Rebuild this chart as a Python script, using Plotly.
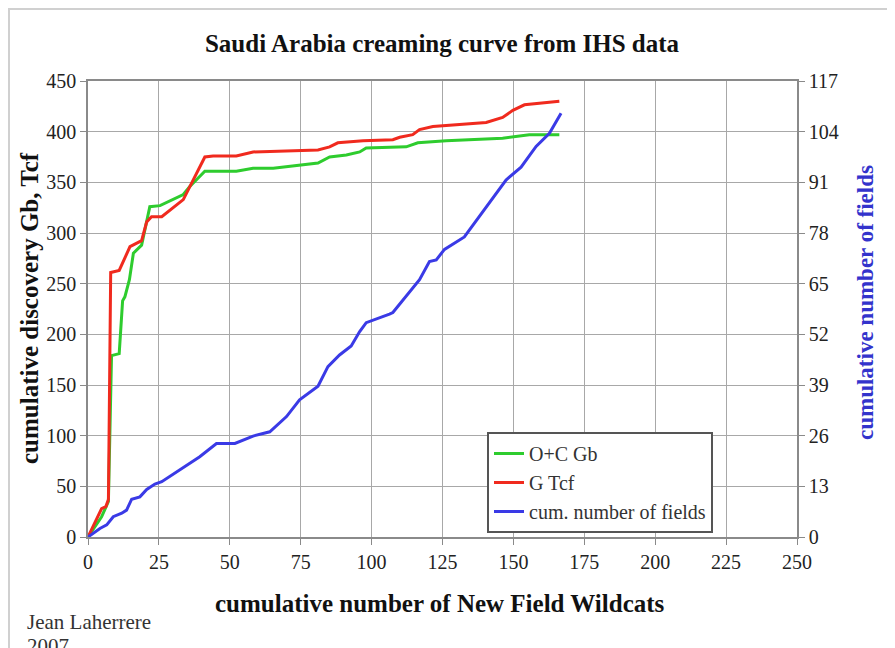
import plotly.graph_objects as go

# ---- data ----
oc_x = [0, 4.8, 7.2, 8.3, 11, 12.2, 13, 14.6, 16, 18.9, 21.8, 25.4, 33.6, 35.9, 41.2, 52.3, 58.2,
        65.3, 81.1, 85.2, 91.1, 95.8, 98.1, 112.2, 116.3, 126.3, 146.2, 149.8, 155.6, 166.2]
oc_gb = [0, 20, 35, 179, 181, 233, 237, 254, 280, 288, 326, 327, 338, 346, 361, 361, 364,
         364, 369, 375, 377, 380, 384, 385, 389, 391, 393.5, 395, 397, 397]

g_x = [0, 4.8, 6.3, 7.2, 8, 11, 14.8, 18.9, 20.7, 22.4, 26, 33.6, 41.2, 44.1, 52.3, 58.2, 81.1,
       85.2, 88.1, 97, 107.5, 109.9, 114.5, 116.9, 121.6, 132.2, 140.4, 146.2, 149.8, 153.9,
       160.3, 166.2]
g_tcf = [0, 28, 30, 37, 261, 263, 286.5, 292.5, 311, 316, 316, 333, 375, 376, 376, 380, 382,
         385, 389, 391, 392, 394.5, 397, 402, 405, 407, 409, 414, 421, 426.5, 428, 430]

n_x = [0, 4.2, 6.6, 8.9, 11.9, 13.6, 15.4, 18.3, 20.7, 23.6, 26, 32.4, 39.4, 45.3, 51.8, 58.2,
       64.1, 70, 74.6, 81.1, 84.6, 88.7, 92.8, 95.8, 98.1, 106.3, 107.5, 116.9, 120.4, 122.8,
       125.7, 132.7, 139.2, 147.4, 152.7, 158, 162.7, 166.8]
n_fields = [0, 2.2, 3.1, 5.2, 6.1, 6.9, 9.7, 10.3, 12.2, 13.6, 14.2, 17.2, 20.6, 24, 24, 25.9,
            27, 30.9, 35.2, 38.7, 43.7, 46.7, 49, 52.7, 55, 57.2, 57.6, 66, 70.7, 71.1,
            73.8, 77, 83.5, 91.6, 94.9, 100.2, 103.6, 108.7]

x_ticks = [0, 25, 50, 75, 100, 125, 150, 175, 200, 225, 250]
y_ticks = [0, 50, 100, 150, 200, 250, 300, 350, 400, 450]
y2_ticks = [0, 13, 26, 39, 52, 65, 78, 91, 104, 117]

SERIF = "Liberation Serif"
GREEN = "#2ecc2e"
RED = "#f02a1e"
BLUE = "#3a3ae6"

# plot area in figure pixels
L, R, T, B = 80, 789, 73, 529
PW, PH = R - L, B - T


def px(x):
    return (x - L) / PW


def py(y):
    return (B - y) / PH


fig = go.Figure()
fig.add_trace(go.Scatter(x=oc_x, y=oc_gb, mode="lines", name="O+C Gb",
                         line=dict(color=GREEN, width=3), legendgroup="a"))
fig.add_trace(go.Scatter(x=g_x, y=g_tcf, mode="lines", name="G Tcf",
                         line=dict(color=RED, width=3), legendgroup="b"))
fig.add_trace(go.Scatter(x=n_x, y=n_fields, mode="lines", name="cum. number of fields",
                         line=dict(color=BLUE, width=3), yaxis="y2", legendgroup="c"))

axis_common = dict(showline=True, linecolor="#8a8a8a", linewidth=1.5,
                   ticks="outside", ticklen=6, tickcolor="#8a8a8a",
                   tickfont=dict(family=SERIF, size=20, color="#222"),
                   zeroline=False)

fig.update_layout(
    width=895, height=648,
    margin=dict(l=L, r=895 - R, t=T, b=648 - B),
    paper_bgcolor="white", plot_bgcolor="white",
    showlegend=True,
    legend=dict(x=px(479), y=py(424), xanchor="left", yanchor="top",
                bgcolor="white", bordercolor="#555", borderwidth=2,
                font=dict(family=SERIF, size=20, color="#333"),
                traceorder="grouped", tracegroupgap=0),
    xaxis=dict(range=[0, 250], tickvals=x_ticks, showgrid=True, gridcolor="#a8a8a8",
               gridwidth=1, mirror=True, **axis_common),
    yaxis=dict(range=[0, 450], tickvals=y_ticks, showgrid=True, gridcolor="#a8a8a8",
               gridwidth=1, **axis_common),
    yaxis2=dict(range=[0, 117], tickvals=y2_ticks, overlaying="y", side="right",
                showgrid=False, **axis_common),
    title=dict(text="<b>Saudi Arabia creaming curve from IHS data</b>",
               x=434 / 895, xref="container", xanchor="center",
               y=1 - 35 / 648, yref="container", yanchor="middle",
               font=dict(family=SERIF, size=25, color="#111")),
)

# axis titles as annotations for precise placement
fig.add_annotation(text="<b>cumulative discovery Gb, Tcf</b>", textangle=-90,
                   xref="paper", yref="paper", x=px(21), y=py(300),
                   xanchor="center", yanchor="middle", showarrow=False,
                   font=dict(family=SERIF, size=25, color="#111"))
fig.add_annotation(text="<b>cumulative number of fields</b>", textangle=-90,
                   xref="paper", yref="paper", x=px(857), y=py(295),
                   xanchor="center", yanchor="middle", showarrow=False,
                   font=dict(family=SERIF, size=23, color="#3333cc"))
fig.add_annotation(text="<b>cumulative number of New Field Wildcats</b>",
                   xref="paper", yref="paper", x=px(432), y=py(595),
                   xanchor="center", yanchor="middle", showarrow=False,
                   font=dict(family=SERIF, size=25, color="#111"))
fig.add_annotation(text="Jean Laherrere", xref="paper", yref="paper",
                   x=px(17), y=py(614), xanchor="left", yanchor="middle",
                   showarrow=False, font=dict(family=SERIF, size=21, color="#333"))
fig.add_annotation(text="2007", xref="paper", yref="paper",
                   x=px(17), y=py(638), xanchor="left", yanchor="middle",
                   showarrow=False, font=dict(family=SERIF, size=21, color="#333"))

# outer chart-area frame
fig.add_shape(type="rect", xref="paper", yref="paper",
              x0=px(1), x1=px(894), y0=py(647), y1=py(1),
              line=dict(color="#d0d0d0", width=2), fillcolor="rgba(0,0,0,0)", layer="below")

fig.write_html("out.html")
